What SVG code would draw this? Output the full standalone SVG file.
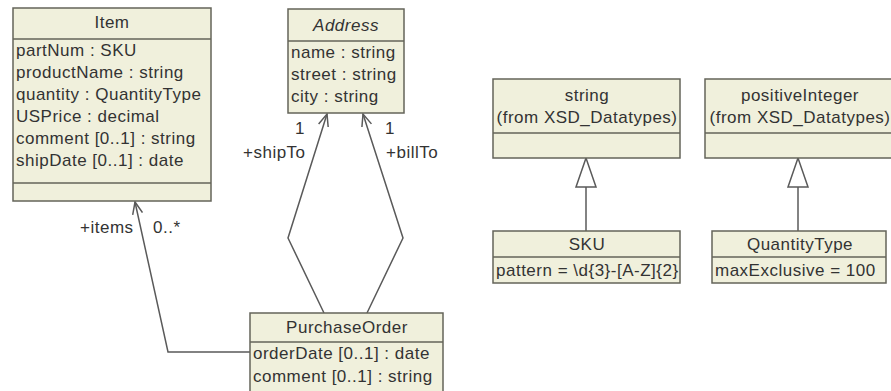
<svg xmlns="http://www.w3.org/2000/svg" width="891" height="391" viewBox="0 0 891 391">
<defs>
<style>
.box{fill:#f0f0dc;stroke:#64645a;stroke-width:1.5}
.div{stroke:#64645a;stroke-width:1.5}
text{font-family:"Liberation Sans",Arial,sans-serif;font-size:17px;letter-spacing:0.5px;fill:#333}
.c{text-anchor:middle}
.it{font-style:italic}
.conn{fill:none;stroke:#5a5a5a;stroke-width:1.5}
.tri{fill:#fff;stroke:#5a5a5a;stroke-width:1.5}
</style>
<marker id="open" viewBox="0 0 14 12" refX="13" refY="6" markerWidth="14" markerHeight="12" markerUnits="userSpaceOnUse" orient="auto">
<path d="M1,1 L13,6 L1,11" fill="none" stroke="#5a5a5a" stroke-width="1.5"/>
</marker>
</defs>
<rect width="891" height="391" fill="#fff"/>
<g id="connectors">
<polyline class="conn" points="250,352 168,352 135,202" marker-end="url(#open)"/>
<polyline class="conn" points="324,313 288,238 327,114" marker-end="url(#open)"/>
<polyline class="conn" points="367,313 403,238 363,114" marker-end="url(#open)"/>
<line class="conn" x1="586" y1="231" x2="586" y2="187"/>
<polygon class="tri" points="586,158 576,187 596,187"/>
<line class="conn" x1="798" y1="231" x2="798" y2="187"/>
<polygon class="tri" points="798,158 788,187 808,187"/>
<text x="80" y="233">+items</text>
<text x="153" y="233">0..*</text>
<text x="295" y="134">1</text>
<text x="243" y="158">+shipTo</text>
<text x="385" y="134">1</text>
<text x="386" y="158">+billTo</text>
</g>
<g id="Item">
<rect class="box" x="13" y="8" width="198" height="193"/>
<line class="div" x1="13" y1="39" x2="211" y2="39"/>
<line class="div" x1="13" y1="183" x2="211" y2="183"/>
<text class="c" x="112" y="28">Item</text>
<text x="16" y="56">partNum : SKU</text>
<text x="16" y="78">productName : string</text>
<text x="16" y="100">quantity : QuantityType</text>
<text x="16" y="122">USPrice : decimal</text>
<text x="16" y="144">comment [0..1] : string</text>
<text x="16" y="166">shipDate [0..1] : date</text>
</g>
<g id="Address">
<rect class="box" x="288" y="9" width="116" height="104"/>
<line class="div" x1="288" y1="41" x2="404" y2="41"/>
<text class="c it" x="346" y="31">Address</text>
<text x="291" y="58">name : string</text>
<text x="291" y="80">street : string</text>
<text x="291" y="102">city : string</text>
</g>
<g id="PurchaseOrder">
<rect class="box" x="250" y="313" width="193" height="90"/>
<line class="div" x1="250" y1="342" x2="443" y2="342"/>
<text class="c" x="347" y="333">PurchaseOrder</text>
<text x="253" y="359">orderDate [0..1] : date</text>
<text x="253" y="382">comment [0..1] : string</text>
</g>
<g id="string">
<rect class="box" x="493" y="79" width="187" height="79"/>
<line class="div" x1="493" y1="133" x2="680" y2="133"/>
<text class="c" x="587" y="101">string</text>
<text class="c" x="587" y="123">(from XSD_Datatypes)</text>
</g>
<g id="positiveInteger">
<rect class="box" x="705" y="79" width="188" height="79"/>
<line class="div" x1="705" y1="133" x2="893" y2="133"/>
<text class="c" x="800" y="101">positiveInteger</text>
<text class="c" x="800" y="123">(from XSD_Datatypes)</text>
</g>
<g id="SKU">
<rect class="box" x="493" y="231" width="187" height="52"/>
<line class="div" x1="493" y1="257" x2="680" y2="257"/>
<text class="c" x="587" y="250">SKU</text>
<text x="496" y="276">pattern = \d{3}-[A-Z]{2}</text>
</g>
<g id="QuantityType">
<rect class="box" x="712" y="231" width="174" height="52"/>
<line class="div" x1="712" y1="257" x2="886" y2="257"/>
<text class="c" x="800" y="250">QuantityType</text>
<text x="715" y="276">maxExclusive = 100</text>
</g>
</svg>
